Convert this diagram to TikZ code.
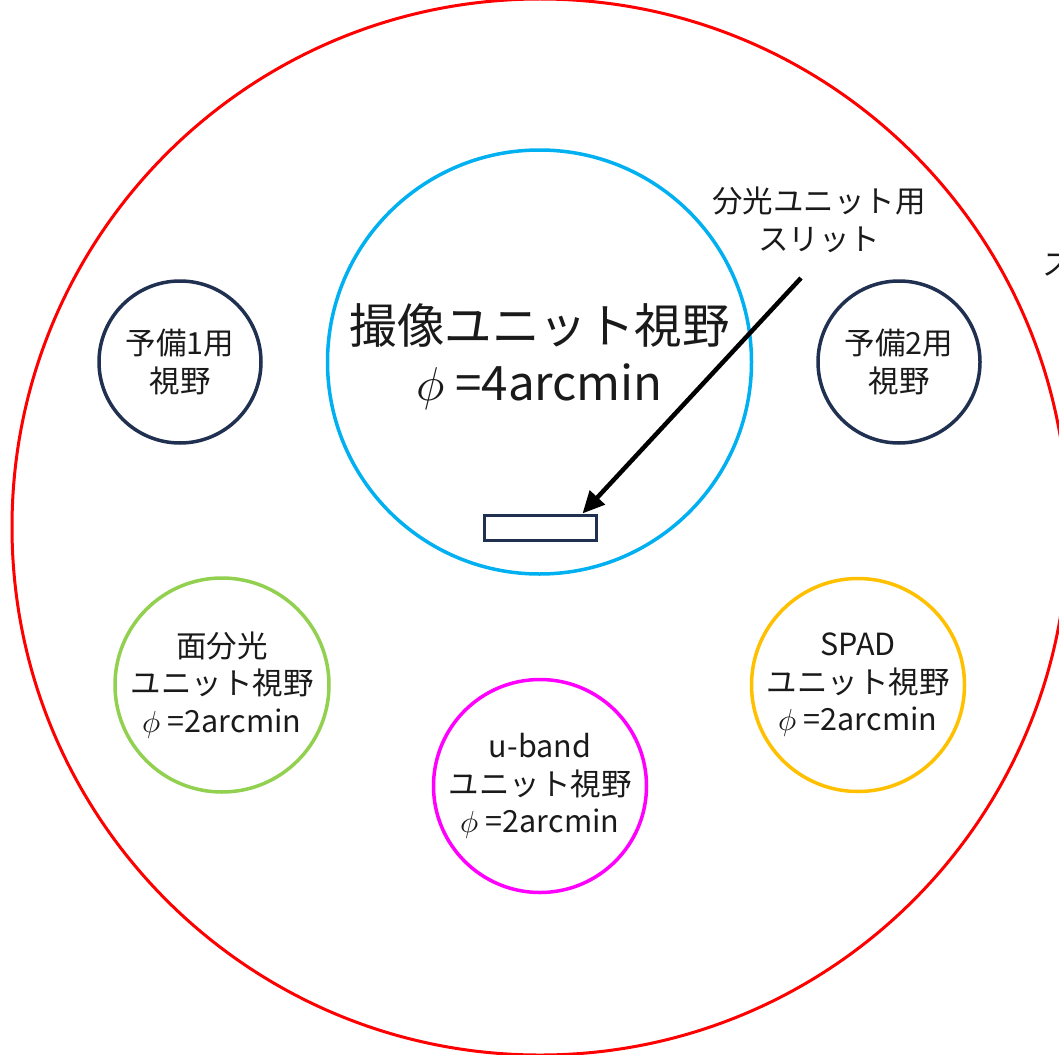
\documentclass[tikz,border=0pt]{standalone}
\usepackage{fontspec}
\usepackage{unicode-math}
\setmainfont{Noto Sans CJK JP}
\setmathfont{Latin Modern Math}
\usetikzlibrary{arrows.meta}
\definecolor{cred}{HTML}{FF0000}
\definecolor{cblue}{HTML}{00B0F0}
\definecolor{cnavy}{HTML}{1F3050}
\definecolor{cgreen}{HTML}{92D050}
\definecolor{cyellow}{HTML}{FFC000}
\definecolor{cmag}{HTML}{FF00FF}
\definecolor{ctext}{HTML}{1A1A1A}
\tikzset{
  fov/.style={circle, line width=3.5pt, inner sep=0pt, minimum size=#1, text=ctext, align=center},
  smalltxt/.style={font=\fontsize{30.5}{37.5}\selectfont},
  bigtxt/.style={font=\fontsize{47.5}{57}\selectfont},
  pointer/.style={line width=4.5pt, black, -{Triangle[length=22pt,width=20pt]}},
}
\begin{document}
\begin{tikzpicture}[x=1pt,y=-1pt]
\useasboundingbox (0,0) rectangle (1059,1054);
\clip (0,0) rectangle (1059,1054);
\fill[white] (0,0) rectangle (1059,1054);
% outer field
\node[draw=cred, line width=3pt, circle, minimum size=1056pt, inner sep=0pt] (outer) at (540,527) {};
% imaging unit
\node[fov=424pt, draw=cblue] (imaging) at (539.5,362) {};
\node[bigtxt, text=ctext, align=center] (imaginglabel) at (539.5,357) {撮像ユニット視野\\$\phi$ =4arcmin};
\node[fov=162pt, draw=cnavy, smalltxt] (spare1) at (180,362) {予備1用\\視野};
\node[fov=162pt, draw=cnavy, smalltxt] (spare2) at (899,362) {予備2用\\視野};
\node[fov=214pt, draw=cgreen, smalltxt] (ifu) at (222,685) {面分光\\ユニット視野\\$\phi$ =2arcmin};
\node[fov=213pt, draw=cyellow, smalltxt] (spad) at (858,685) {SPAD\\ユニット視野\\$\phi$ =2arcmin};
\node[fov=213pt, draw=cmag, smalltxt] (uband) at (540,786) {u-band\\ユニット視野\\$\phi$ =2arcmin};
% slit
\node[draw=cnavy, line width=3pt, minimum width=112pt, minimum height=25pt, inner sep=0pt] (slit) at (540,527.5) {};
% slit label
\node[smalltxt, text=ctext, align=center] (slitlabel) at (819,220) {分光ユニット用\\スリット};
\coordinate (arrstart) at (801,278);
\draw[pointer] (arrstart) -- ([xshift=-15pt]slit.north east);
% partially visible text at right edge
\node[smalltxt, text=ctext, anchor=west, inner sep=0pt] (edgetxt) at (1042,265) {ス};
\end{tikzpicture}
\end{document}
